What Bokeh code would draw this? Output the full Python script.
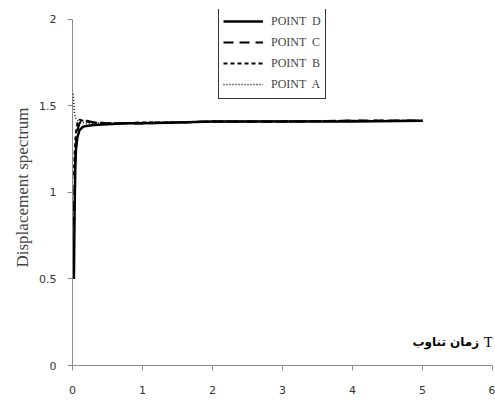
from bokeh.plotting import figure
from bokeh.models import Legend, LegendItem, Range1d, FixedTicker, ColumnDataSource
from bokeh.core.properties import value
from bokeh.embed import file_html
from bokeh.resources import INLINE

# Data
x_d = [0.02, 0.03, 0.04, 0.05, 0.07, 0.10, 0.15, 0.20, 0.30, 0.50, 0.75, 1.0, 1.5, 2.0, 3.0, 4.0, 5.0]
y_d = [0.50, 0.90, 1.15, 1.25, 1.32, 1.36, 1.38, 1.385, 1.39, 1.395, 1.40, 1.40, 1.405, 1.41, 1.41, 1.41, 1.415]

x_c = [0.02, 0.03, 0.04, 0.05, 0.07, 0.10, 0.15, 0.20, 0.30, 0.50, 0.75, 1.0, 1.5, 2.0, 3.0, 4.0, 5.0]
y_c = [0.80, 1.05, 1.20, 1.28, 1.36, 1.40, 1.42, 1.415, 1.405, 1.40, 1.40, 1.40, 1.405, 1.41, 1.41, 1.415, 1.415]

x_b = [0.02, 0.03, 0.04, 0.05, 0.07, 0.10, 0.15, 0.20, 0.30, 0.50, 0.75, 1.0, 1.5, 2.0, 3.0, 4.0, 5.0]
y_b = [1.10, 1.22, 1.30, 1.35, 1.40, 1.42, 1.415, 1.41, 1.405, 1.40, 1.40, 1.405, 1.405, 1.41, 1.41, 1.415, 1.415]

x_a = [0.01, 0.02, 0.03, 0.04, 0.05, 0.07, 0.10, 0.15, 0.20, 0.30, 0.50, 1.0, 2.0, 3.0, 4.0, 5.0]
y_a = [1.57, 1.50, 1.46, 1.44, 1.43, 1.42, 1.41, 1.405, 1.40, 1.40, 1.40, 1.405, 1.41, 1.415, 1.415, 1.415]

labels = ["POINT  D", "POINT  C", "POINT  B", "POINT  A"]
x_ticks = [0, 1, 2, 3, 4, 5, 6]
y_ticks = [0, 0.5, 1, 1.5, 2]
y_title = "Displacement spectrum"
x_title_fa = "زمان تناوب"
x_title_sym = "T"

# frame extends a little above y=2 so the legend box is not clipped; axis line bounded to 0..2
p = figure(width=495, height=402, output_backend="svg", toolbar_location=None,
           x_range=Range1d(0, 6), y_range=Range1d(0, 2.0578),
           min_border_left=72, min_border_right=3, min_border_top=9, min_border_bottom=37)
p.outline_line_color = None
p.xgrid.visible = False
p.ygrid.visible = False

for ax in (p.xaxis[0], p.yaxis[0]):
    ax.axis_line_color = "#8c8c8c"
    ax.major_tick_line_color = "#8c8c8c"
    ax.minor_tick_line_color = None
    ax.major_tick_in = 0
    ax.major_tick_out = 5
    ax.major_label_text_font = "DejaVu Sans"
    ax.major_label_text_font_size = "11px"
    ax.major_label_text_color = "#333333"
p.xaxis.ticker = FixedTicker(ticks=x_ticks)
p.yaxis.ticker = FixedTicker(ticks=y_ticks)
p.yaxis.bounds = (0, 2)
p.xaxis.major_label_standoff = 15
p.yaxis.major_label_standoff = 11
p.yaxis.axis_label = y_title
p.yaxis.axis_label_text_font = "Liberation Serif"
p.yaxis.axis_label_text_font_style = "normal"
p.yaxis.axis_label_text_font_size = "17px"
p.yaxis.axis_label_standoff = 4

r_d = p.line(x_d, y_d, line_color="black", line_width=2.5)
r_c = p.line(x_c, y_c, line_color="black", line_width=2.2, line_dash="10 6")
r_b = p.line(x_b, y_b, line_color="black", line_width=2, line_dash="4 3")
r_a = p.line(x_a, y_a, line_color="black", line_width=1.5, line_dash="1 2")

src_t = ColumnDataSource(dict(x=[5.875], y=[0.133], t=[x_title_sym]))
p.text(x="x", y="y", text="t", source=src_t, text_font=value("Liberation Serif"),
       text_font_size="15px", text_align="left", text_baseline="middle", text_color="black")
src_f = ColumnDataSource(dict(x=[5.81], y=[0.133], t=[x_title_fa]))
p.text(x="x", y="y", text="t", source=src_f, text_font=value("DejaVu Sans"),
       text_font_size="12px", text_font_style="bold", text_align="right",
       text_baseline="middle", text_color="black")

legend = Legend(items=[LegendItem(label=l, renderers=[r]) for l, r in zip(labels, [r_d, r_c, r_b, r_a])],
                location=(146, 266))
legend.border_line_color = "#333333"
legend.border_line_width = 1.5
legend.border_line_alpha = 1.0
legend.background_fill_color = "white"
legend.background_fill_alpha = 1.0
legend.glyph_width = 40
legend.glyph_height = 20
legend.label_standoff = 8
legend.label_text_font = "Liberation Serif"
legend.label_text_font_size = "12px"
legend.spacing = 1
legend.padding = 4
legend.margin = 0
legend.label_height = 20
p.add_layout(legend, "center")

open("out.html", "w").write(file_html(p, INLINE))
